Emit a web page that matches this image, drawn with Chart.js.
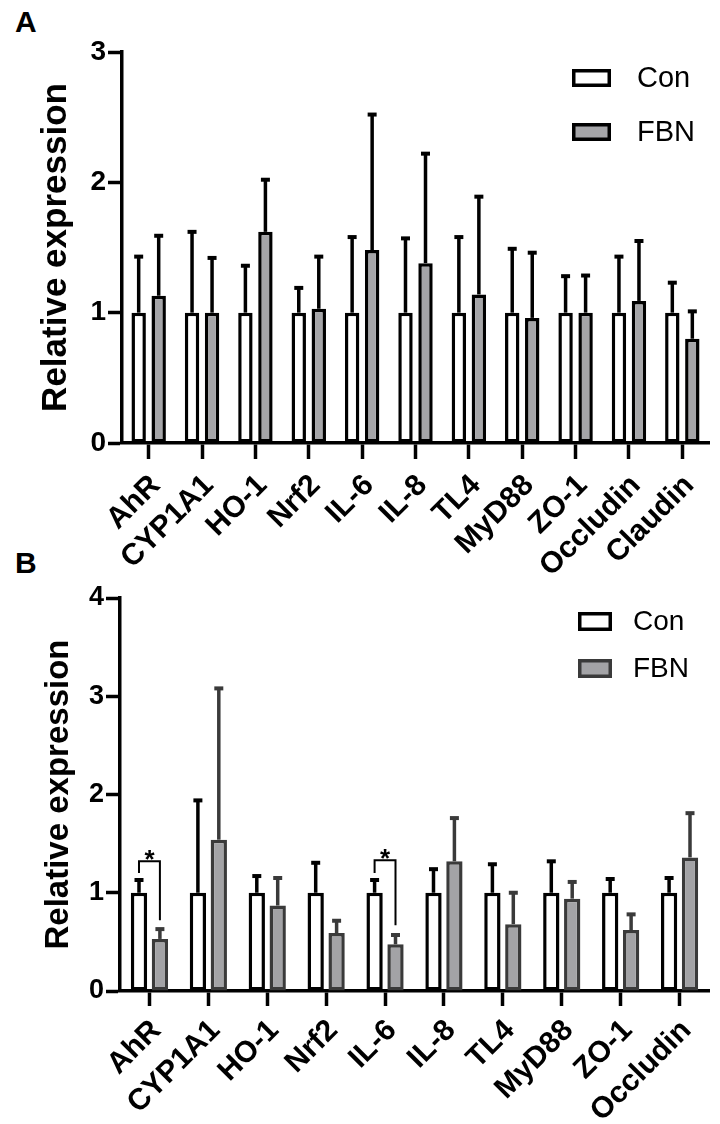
<!DOCTYPE html>
<html><head><meta charset="utf-8">
<script src="https://cdn.jsdelivr.net/npm/chart.js@4.4.0/dist/chart.umd.min.js"></script>
<style>
html,body{margin:0;padding:0;background:#fff;}
body{width:720px;height:1124px;position:relative;overflow:hidden;font-family:"Liberation Sans",Arial,sans-serif;}
canvas{position:absolute;left:0;}
#cA{top:0;} #cB{top:540px;}
.lab{position:absolute;font-weight:bold;font-size:30px;line-height:1;color:#000;}
</style></head><body>
<div class="lab" style="left:15px;top:7px">A</div>
<div class="lab" style="left:15px;top:548px">B</div>
<canvas id="cA" width="720" height="590"></canvas>
<canvas id="cB" width="720" height="584"></canvas>
<script>
// ---------- Panel A data ----------
const categoriesA = ['AhR','CYP1A1','HO-1','Nrf2','IL-6','IL-8','TL4','MyD88','ZO-1','Occludin','Claudin'];
const conA     = [1, 1, 1, 1, 1, 1, 1, 1, 1, 1, 1];
const conErrA  = [0.43, 0.62, 0.36, 0.19, 0.58, 0.57, 0.58, 0.49, 0.28, 0.43, 0.23];
const fbnA     = [1.13, 1.00, 1.62, 1.03, 1.48, 1.38, 1.14, 0.96, 1.00, 1.09, 0.80];
const fbnErrA  = [0.46, 0.42, 0.40, 0.40, 1.04, 0.84, 0.75, 0.50, 0.285, 0.46, 0.21];
const yTicksA  = [0, 1, 2, 3];

// ---------- Panel B data ----------
const categoriesB = ['AhR','CYP1A1','HO-1','Nrf2','IL-6','IL-8','TL4','MyD88','ZO-1','Occludin'];
const conB     = [1, 1, 1, 1, 1, 1, 1, 1, 1, 1];
const conErrB  = [0.13, 0.94, 0.17, 0.305, 0.13, 0.24, 0.29, 0.32, 0.14, 0.15];
const fbnB     = [0.53, 1.54, 0.87, 0.59, 0.475, 1.32, 0.68, 0.94, 0.62, 1.36];
const fbnErrB  = [0.10, 1.54, 0.28, 0.125, 0.095, 0.44, 0.32, 0.17, 0.16, 0.45];
const yTicksB  = [0, 1, 2, 3, 4];

// significance brackets in panel B (category index, bracket top, left leg end, right leg end)
const sigIndexB   = [0, 4];
const sigTopB     = [1.32, 1.33];
const sigLeftB    = [1.20, 1.20];
const sigRightB   = [0.72, 0.67];
const sigLabelB   = ['*', '*'];

const seriesNames = ['Con', 'FBN'];
const FONT = '"Liberation Sans", Arial, sans-serif';

const errorBarPlugin = {
  id: 'errorBars',
  afterDatasetsDraw(chart, args, opts) {
    const ctx = chart.ctx, ys = chart.scales.y;
    chart.data.datasets.forEach((ds, di) => {
      const meta = chart.getDatasetMeta(di);
      meta.data.forEach((bar, i) => {
        const v = ds.data[i], e = ds.errors[i];
        const x = bar.x, y0 = ys.getPixelForValue(v), y1 = ys.getPixelForValue(v + e);
        ctx.save();
        ctx.strokeStyle = ds.errorColor;
        ctx.lineWidth = opts.lineWidth;
        ctx.lineCap = 'butt';
        ctx.beginPath();
        ctx.moveTo(x, y0); ctx.lineTo(x, y1);
        ctx.stroke();
        ctx.lineWidth = opts.capWidth;
        ctx.beginPath();
        ctx.moveTo(x - opts.cap, y1); ctx.lineTo(x + opts.cap, y1);
        ctx.stroke();
        ctx.restore();
      });
    });
  }
};

const boxLegendPlugin = {
  id: 'boxLegend',
  afterDraw(chart, args, o) {
    const ctx = chart.ctx;
    chart.data.datasets.forEach((ds, i) => {
      const bx = o.x, by = o.y + i * o.step;
      ctx.save();
      ctx.fillStyle = ds.backgroundColor;
      ctx.fillRect(bx, by, o.w, o.h);
      ctx.strokeStyle = ds.borderColor;
      ctx.lineWidth = 3.5;
      ctx.strokeRect(bx + 1.75, by + 1.75, o.w - 3.5, o.h - 3.5);
      ctx.fillStyle = '#000';
      ctx.font = o.fontSize + 'px ' + FONT;
      ctx.textBaseline = 'middle';
      ctx.textAlign = 'left';
      ctx.fillText(ds.label, o.textX, by + o.h / 2 + 1);
      ctx.restore();
    });
  }
};

const sigPlugin = {
  id: 'sigBrackets',
  afterDatasetsDraw(chart, args, o) {
    if (!o.index) return;
    const ctx = chart.ctx, ys = chart.scales.y;
    const m0 = chart.getDatasetMeta(0), m1 = chart.getDatasetMeta(1);
    o.index.forEach((idx, k) => {
      const xl = m0.data[idx].x, xr = m1.data[idx].x;
      const yt = ys.getPixelForValue(o.top[k]);
      const yl = ys.getPixelForValue(o.left[k]);
      const yr = ys.getPixelForValue(o.right[k]);
      ctx.save();
      ctx.strokeStyle = '#000'; ctx.lineWidth = 2;
      ctx.beginPath();
      ctx.moveTo(xl, yl); ctx.lineTo(xl, yt); ctx.lineTo(xr, yt); ctx.lineTo(xr, yr);
      ctx.stroke();
      ctx.fillStyle = '#000';
      ctx.font = 'bold 26px ' + FONT;
      ctx.textAlign = 'center'; ctx.textBaseline = 'alphabetic';
      ctx.fillText(o.labels[k], (xl + xr) / 2, yt + 7);
      ctx.restore();
    });
  }
};

function makeChart(el, p) {
  return new Chart(el, {
    type: 'bar',
    data: {
      labels: p.labels,
      datasets: [
        { label: seriesNames[0], data: p.con, errors: p.conErr, errorColor: '#000',
          backgroundColor: '#ffffff', borderColor: '#000000', borderWidth: 3.5, borderSkipped: false,
          barPercentage: p.barPct, categoryPercentage: p.catPct },
        { label: seriesNames[1], data: p.fbn, errors: p.fbnErr, errorColor: p.fbnEdge,
          backgroundColor: p.fbnFill, borderColor: p.fbnEdge, borderWidth: 3.5, borderSkipped: false,
          barPercentage: p.barPct, categoryPercentage: p.catPct }
      ]
    },
    options: {
      responsive: false,
      animation: false,
      devicePixelRatio: 1,
      layout: { padding: { top: p.padTop, right: p.padRight, left: 0, bottom: 0 } },
      plugins: {
        legend: { display: false },
        tooltip: { enabled: false },
        errorBars: { lineWidth: 3.5, capWidth: 4, cap: 4.5 },
        boxLegend: p.legend,
        sigBrackets: p.sig || {}
      },
      scales: {
        x: {
          ticks: { color: '#000', font: { family: FONT, size: p.xFont, weight: 'bold' },
                   minRotation: 45, maxRotation: 45, padding: p.xPad, labelOffset: 7, autoSkip: false },
          grid: { drawOnChartArea: false, offset: false, drawTicks: true, tickLength: p.xTick,
                  tickWidth: 3.5, tickColor: '#000' },
          border: { display: true, color: '#000', width: 3.5 },
          afterFit(s) { s.height = p.bottomH; }
        },
        y: {
          min: p.yTicks[0], max: p.yTicks[p.yTicks.length - 1],
          afterBuildTicks(s) { s.ticks = p.yTicks.map(v => ({ value: v })); },
          ticks: { color: '#000', font: { family: FONT, size: p.yFont, weight: 'bold' }, padding: 2 },
          grid: { drawOnChartArea: false, drawTicks: true, tickLength: 14, tickWidth: 3.5, tickColor: '#000' },
          border: { display: true, color: '#000', width: 3.5 },
          title: { display: true, text: 'Relative expression', color: '#000',
                   font: { family: FONT, size: p.titleSize, weight: 'bold' },
                   padding: { top: p.titlePad, bottom: 0 } },
          afterFit(s) { s.width = p.leftW; }
        }
      }
    },
    plugins: [errorBarPlugin, boxLegendPlugin, sigPlugin]
  });
}

makeChart(document.getElementById('cA'), {
  labels: categoriesA, con: conA, conErr: conErrA, fbn: fbnA, fbnErr: fbnErrA,
  yTicks: yTicksA, fbnFill: '#a5a5a8', fbnEdge: '#000000',
  barPct: 0.72, catPct: 0.75,
  padTop: 52, padRight: 11, leftW: 122, bottomH: 590 - 443,
  xFont: 30, xPad: 9, xTick: 16, yFont: 28, titleSize: 35, titlePad: 35,
  legend: { x: 572, y: 69, w: 39, h: 18, step: 54, textX: 637, fontSize: 29 }
});

makeChart(document.getElementById('cB'), {
  labels: categoriesB, con: conB, conErr: conErrB, fbn: fbnB, fbnErr: fbnErrB,
  yTicks: yTicksB, fbnFill: '#a3a3a6', fbnEdge: '#3a3a3a',
  barPct: 0.78, catPct: 0.71,
  padTop: 58, padRight: 11, leftW: 120, bottomH: 584 - 451,
  xFont: 30, xPad: 7, xTick: 15, yFont: 27, titleSize: 33, titlePad: 39,
  legend: { x: 578, y: 72, w: 34, h: 19, step: 47, textX: 633, fontSize: 28 },
  sig: { index: sigIndexB, top: sigTopB, left: sigLeftB, right: sigRightB, labels: sigLabelB }
});
</script>
</body></html>
